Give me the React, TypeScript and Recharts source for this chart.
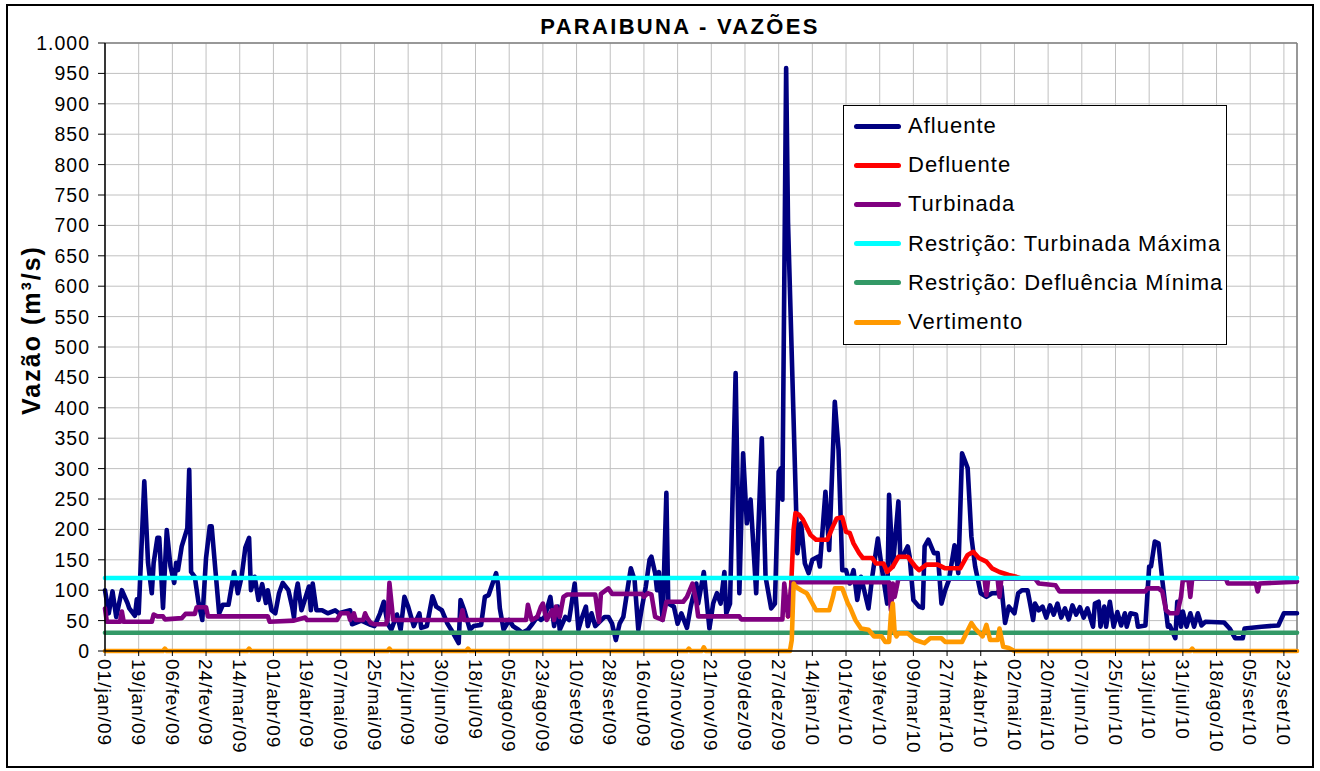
import React from 'react';
import {
  LineChart,
  Line,
  XAxis,
  YAxis,
  CartesianGrid,
  ReferenceLine,
} from 'recharts';

// dias desde 01/jan/09 (dia 0) até 30/set/10 (dia 637)
const DIAS = 638;
const MESES = ['jan', 'fev', 'mar', 'abr', 'mai', 'jun', 'jul', 'ago', 'set', 'out', 'nov', 'dez'];

const tickLabels = [
  '01/jan/09', '19/jan/09', '06/fev/09', '24/fev/09', '14/mar/09', '01/abr/09',
  '19/abr/09', '07/mai/09', '25/mai/09', '12/jun/09', '30/jun/09', '18/jul/09',
  '05/ago/09', '23/ago/09', '10/set/09', '28/set/09', '16/out/09', '03/nov/09',
  '21/nov/09', '09/dez/09', '27/dez/09', '14/jan/10', '01/fev/10', '19/fev/10',
  '09/mar/10', '27/mar/10', '14/abr/10', '02/mai/10', '20/mai/10', '07/jun/10',
  '25/jun/10', '13/jul/10', '31/jul/10', '18/ago/10', '05/set/10', '23/set/10',
];

const yTicks = [0, 50, 100, 150, 200, 250, 300, 350, 400, 450, 500, 550, 600, 650, 700, 750, 800, 850, 900, 950, 1000];

// [dia, vazão m³/s]
type Pt = [number, number];

const afluente: Pt[] = [
  [0, 100], [2, 62], [4, 98], [6, 56], [9, 100], [12, 79], [13, 70], [16, 58], [17, 85], [18, 62],
  [21, 279], [23, 145], [25, 95], [26, 145], [28, 186], [29, 186], [31, 71], [33, 199], [35, 139],
  [37, 112], [38, 145], [39, 133], [41, 172], [44, 202], [45, 298], [46, 130], [48, 122], [50, 79],
  [52, 51], [54, 153], [56, 205], [57, 205], [59, 133], [61, 62], [63, 76], [66, 76], [69, 130],
  [71, 95], [73, 122], [75, 170], [77, 186], [78, 100], [80, 122], [82, 84], [84, 110], [86, 79],
  [87, 100], [89, 67], [91, 62], [93, 95], [95, 112], [98, 100], [100, 73], [101, 55], [102, 95],
  [103, 111], [105, 67], [109, 106], [110, 67], [111, 111], [113, 67], [116, 67], [119, 62], [123, 67],
  [125, 62], [131, 67], [132, 44], [137, 50], [142, 43], [144, 41], [147, 62], [149, 81], [151, 45],
  [153, 35], [156, 60], [158, 35], [160, 89], [162, 73], [165, 41], [168, 62], [169, 38], [172, 41],
  [175, 90], [177, 73], [180, 67], [183, 45], [185, 35], [189, 13], [190, 84], [192, 67], [195, 35],
  [197, 41], [201, 43], [203, 89], [205, 92], [209, 128], [210, 110], [211, 70], [213, 35], [216, 51],
  [218, 41], [221, 35], [223, 30], [226, 35], [228, 43], [231, 56], [233, 51], [235, 56], [238, 89],
  [240, 41], [242, 73], [243, 35], [246, 56], [248, 51], [251, 111], [253, 35], [255, 56], [257, 73],
  [258, 41], [260, 62], [262, 41], [267, 56], [269, 56], [271, 45], [273, 18], [275, 45], [277, 56],
  [280, 117], [281, 136], [283, 117], [285, 35], [287, 73], [289, 106], [291, 150], [292, 155],
  [294, 128], [295, 100], [296, 130], [298, 51], [300, 260], [301, 78], [304, 73], [306, 45], [308, 62],
  [311, 38], [313, 73], [316, 111], [317, 78], [320, 130], [323, 37], [325, 78], [327, 95], [329, 78],
  [331, 130], [332, 62], [334, 78], [337, 457], [339, 95], [341, 325], [343, 210], [345, 249], [348, 95],
  [349, 188], [351, 350], [353, 122], [356, 70], [358, 78], [360, 295], [361, 300], [362, 249],
  [364, 959], [365, 705], [370, 161], [372, 210], [374, 144], [376, 128], [378, 150], [381, 155],
  [382, 139], [384, 221], [385, 262], [387, 166], [390, 410], [392, 331], [394, 133], [396, 133],
  [398, 111], [400, 133], [402, 84], [404, 122], [408, 70], [410, 122], [413, 185], [415, 139],
  [418, 78], [419, 257], [421, 139], [424, 246], [425, 155], [427, 160], [429, 172], [430, 155],
  [432, 84], [435, 73], [437, 71], [438, 172], [440, 183], [443, 161], [445, 161], [447, 78], [449, 100],
  [451, 117], [454, 174], [456, 128], [458, 325], [460, 309], [461, 301], [463, 188], [465, 139],
  [468, 95], [471, 89], [474, 95], [477, 95], [479, 106], [481, 46], [483, 73], [486, 62], [488, 95],
  [490, 100], [493, 100], [494, 84], [496, 51], [497, 78], [499, 67], [501, 73], [503, 55], [505, 75],
  [507, 60], [509, 78], [511, 55], [513, 70], [515, 52], [517, 75], [519, 60], [521, 72], [523, 55],
  [525, 70], [528, 40], [529, 78], [531, 81], [532, 40], [534, 73], [535, 40], [537, 81], [539, 40],
  [541, 64], [543, 42], [545, 62], [546, 40], [548, 62], [551, 60], [552, 40], [556, 42], [558, 139],
  [559, 139], [561, 180], [563, 177], [565, 117], [568, 40], [569, 42], [572, 21], [573, 81], [575, 40],
  [576, 65], [578, 40], [580, 62], [582, 40], [584, 62], [586, 42], [588, 48], [598, 47], [601, 37],
  [604, 21], [608, 21], [609, 37], [618, 40], [627, 42], [630, 62], [637, 62],
];

// só visível onde há vertimento; no resto fica sob a turbinada
const defluente: Pt[] = [
  [365, 57], [366, 60], [368, 200], [369, 227], [371, 224], [373, 216], [377, 191], [380, 183],
  [386, 183], [389, 205], [391, 218], [394, 220], [396, 196], [398, 194], [400, 177], [403, 161],
  [405, 153], [410, 153], [412, 144], [416, 144], [418, 130], [421, 139], [424, 155], [429, 155],
  [433, 139], [435, 133], [439, 142], [445, 142], [449, 136], [457, 136], [461, 158], [464, 163],
  [467, 153], [471, 147], [474, 136], [478, 130], [483, 125], [487, 122], [490, 119],
];

const turbinada: Pt[] = [
  [0, 70], [1, 48], [8, 48], [9, 65], [10, 48], [25, 48], [26, 60], [28, 57], [31, 57], [32, 52],
  [41, 54], [43, 61], [48, 61], [49, 72], [54, 72], [55, 57], [87, 57], [88, 48], [101, 50], [107, 55],
  [108, 51], [124, 51], [126, 62], [130, 62], [131, 51], [133, 62], [134, 51], [138, 51], [139, 62],
  [140, 55], [142, 46], [144, 44], [150, 44], [151, 51], [152, 112], [154, 51], [190, 51], [191, 67],
  [192, 51], [225, 51], [226, 76], [228, 51], [231, 56], [233, 73], [234, 78], [236, 51], [239, 67],
  [240, 51], [241, 73], [243, 56], [245, 89], [247, 93], [262, 93], [264, 48], [265, 94], [269, 103],
  [271, 94], [287, 94], [288, 89], [290, 95], [292, 93], [294, 56], [298, 51], [300, 81], [309, 81],
  [311, 89], [314, 111], [316, 81], [317, 57], [339, 57], [340, 52], [362, 52], [363, 111], [365, 57],
  [367, 113], [419, 113], [420, 67], [421, 111], [422, 89], [424, 119], [470, 119], [471, 92],
  [472, 119], [477, 119], [478, 89], [479, 119], [497, 119], [499, 111], [508, 108], [510, 98],
  [556, 98], [557, 103], [563, 103], [565, 98], [567, 67], [569, 62], [573, 62], [575, 89], [576, 117],
  [579, 117], [580, 89], [581, 119], [599, 119], [600, 111], [615, 111], [616, 98], [617, 111],
  [637, 114],
];

const restricaoTurbinadaMaxima: Pt[] = [[0, 120], [637, 120]];
const restricaoDefluenciaMinima: Pt[] = [[0, 30], [637, 30]];

const vertimento: Pt[] = [
  [0, 0], [31, 0], [32, 4], [33, 0], [76, 0], [77, 4], [78, 0], [151, 0], [152, 4], [153, 0],
  [193, 0], [194, 4], [195, 0], [311, 0], [312, 4], [313, 0], [319, 0], [320, 6], [321, 0], [366, 0],
  [367, 18], [368, 111], [369, 106], [372, 100], [375, 95], [377, 84], [380, 67], [387, 67], [389, 89],
  [390, 103], [394, 103], [397, 78], [398, 73], [401, 51], [404, 37], [408, 35], [411, 24], [415, 24],
  [417, 15], [419, 15], [420, 60], [421, 78], [422, 30], [423, 24], [424, 29], [429, 29], [433, 18],
  [438, 13], [441, 21], [447, 21], [449, 15], [458, 15], [462, 40], [463, 46], [465, 37], [469, 24],
  [471, 43], [473, 18], [477, 18], [478, 37], [480, 7], [483, 5], [486, 0], [580, 0], [581, 4],
  [582, 0], [637, 0],
];

const series = [
  { key: 'afluente', name: 'Afluente', color: '#000080', points: afluente },
  { key: 'defluente', name: 'Defluente', color: '#FF0000', points: defluente },
  { key: 'turbinada', name: 'Turbinada', color: '#800080', points: turbinada },
  { key: 'turbMax', name: 'Restrição: Turbinada Máxima', color: '#00FFFF', points: restricaoTurbinadaMaxima },
  { key: 'deflMin', name: 'Restrição: Defluência Mínima', color: '#339966', points: restricaoDefluenciaMinima },
  { key: 'vertimento', name: 'Vertimento', color: '#FF9900', points: vertimento },
];

const FONT = '"Liberation Sans", Arial, sans-serif';

function diaLabel(i: number) {
  const d = new Date(Date.UTC(2009, 0, 1 + i));
  const dd = String(d.getUTCDate()).padStart(2, '0');
  const yy = String(d.getUTCFullYear() % 100).padStart(2, '0');
  return `${dd}/${MESES[d.getUTCMonth()]}/${yy}`;
}

const chartData: Record<string, string | number | null>[] = Array.from({ length: DIAS }, (_, i) => {
  const row: Record<string, string | number | null> = { data: diaLabel(i) };
  series.forEach((s) => (row[s.key] = null));
  return row;
});
series.forEach((s) => s.points.forEach(([d, v]) => (chartData[d][s.key] = v)));

function XTick(props: any) {
  const { x, y, payload } = props;
  return (
    <text
      x={x}
      y={y}
      dy="0.36em"
      transform={`rotate(90 ${x} ${y})`}
      textAnchor="start"
      fontSize={19}
      letterSpacing={1}
      fontFamily={FONT}
      fill="#000"
    >
      {payload.value}
    </text>
  );
}

function ChartLegend() {
  return (
    <div
      style={{
        position: 'absolute',
        left: 843,
        top: 105,
        width: 384,
        height: 240,
        boxSizing: 'border-box',
        border: '1.5px solid #000',
        background: '#fff',
        fontFamily: FONT,
      }}
    >
      {series.map((s, i) => (
        <div
          key={s.key}
          style={{ position: 'absolute', left: 10, top: 5 + i * 39.2, height: 30, display: 'flex', alignItems: 'center' }}
        >
          <div style={{ width: 47, height: 5, borderRadius: 3, background: s.color }} />
          <span style={{ marginLeft: 7, fontSize: 22, letterSpacing: 1, color: '#000', whiteSpace: 'nowrap' }}>
            {s.name}
          </span>
        </div>
      ))}
    </div>
  );
}

export default function App() {
  return (
    <div style={{ position: 'absolute', left: 0, top: 0, width: 1320, height: 771, background: '#fff' }}>
      <LineChart
        width={1320}
        height={771}
        data={chartData}
        margin={{ top: 43, right: 23, bottom: 0, left: 0 }}
      >
        <CartesianGrid stroke="#c0c0c0" strokeWidth={1} />
        <XAxis
          dataKey="data"
          ticks={tickLabels}
          interval={0}
          height={120}
          tick={<XTick />}
          tickSize={5}
          tickMargin={3}
          axisLine={{ stroke: '#000', strokeWidth: 1.5 }}
          tickLine={{ stroke: '#000' }}
        />
        <YAxis
          domain={[0, 1000]}
          ticks={yTicks}
          interval={0}
          width={105}
          tickSize={7}
          tickMargin={8}
          tickFormatter={(v: number) => (v >= 1000 ? '1.000' : String(v))}
          tick={{ fontSize: 19.5, fill: '#000', fontFamily: FONT, letterSpacing: 1 }}
          axisLine={{ stroke: '#000', strokeWidth: 1.5 }}
          tickLine={{ stroke: '#000' }}
        />
        <ReferenceLine y={1000} stroke="#808080" strokeWidth={1.5} />
        <ReferenceLine x="30/set/10" stroke="#808080" strokeWidth={1.5} />
        {series.map((s) => (
          <Line
            key={s.key}
            type="linear"
            dataKey={s.key}
            name={s.name}
            stroke={s.color}
            strokeWidth={4.6}
            dot={false}
            activeDot={false}
            connectNulls
            isAnimationActive={false}
            strokeLinejoin="round"
            strokeLinecap="round"
          />
        ))}
      </LineChart>
      <ChartLegend />
      <div
        style={{
          position: 'absolute',
          left: 0,
          width: 1360,
          top: 14,
          textAlign: 'center',
          fontFamily: FONT,
          fontWeight: 'bold',
          fontSize: 22,
          letterSpacing: 2.3,
          lineHeight: '26px',
        }}
      >
        PARAIBUNA - VAZÕES
      </div>
      <div
        style={{
          position: 'absolute',
          left: 31,
          top: 330,
          transform: 'translate(-50%, -50%) rotate(-90deg)',
          fontFamily: FONT,
          fontWeight: 'bold',
          fontSize: 25,
          letterSpacing: 2,
          whiteSpace: 'nowrap',
        }}
      >
        Vazão (m³/s)
      </div>
      <div
        style={{
          position: 'absolute',
          left: 6,
          top: 4,
          width: 1308,
          height: 764,
          boxSizing: 'border-box',
          border: '2px solid #000',
          pointerEvents: 'none',
        }}
      />
    </div>
  );
}
